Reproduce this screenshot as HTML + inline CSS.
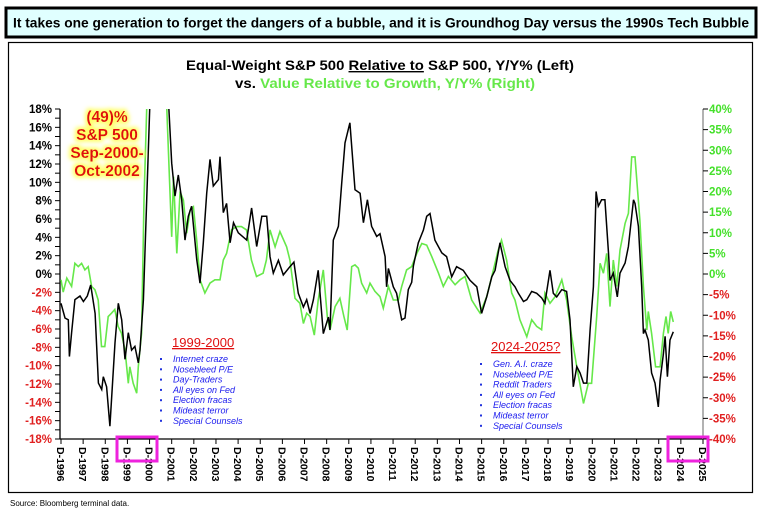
<!DOCTYPE html>
<html><head><meta charset="utf-8"><style>
body{margin:0;background:#fff;}
svg{display:block;font-family:"Liberation Sans",Arial,sans-serif;}
</style></head><body>
<svg id="c" width="762" height="513" viewBox="0 0 762 513">
<defs>
<clipPath id="clip"><rect x="60" y="109" width="643" height="330"/></clipPath>
<filter id="glow" x="-20%" y="-20%" width="140%" height="140%"><feMorphology in="SourceAlpha" operator="dilate" radius="2" result="d"/><feGaussianBlur in="d" stdDeviation="2" result="b"/><feFlood flood-color="#ffff66"/><feComposite in2="b" operator="in" result="g"/><feMerge><feMergeNode in="g"/><feMergeNode in="SourceGraphic"/></feMerge></filter>
</defs>
<rect x="6" y="8" width="750" height="29" fill="#e0ffff" stroke="#000" stroke-width="3"/>
<text x="381" y="27.5" text-anchor="middle" font-size="14" font-weight="bold" textLength="736" lengthAdjust="spacingAndGlyphs">It takes one generation to forget the dangers of a bubble, and it is Groundhog Day versus the 1990s Tech Bubble</text>
<rect x="8.5" y="42.5" width="744" height="450" fill="#fff" stroke="#000" stroke-width="1.2"/>
<text x="380" y="70" text-anchor="middle" font-size="14" font-weight="bold" textLength="388" lengthAdjust="spacingAndGlyphs">Equal-Weight S&amp;P 500 <tspan text-decoration="underline">Relative to</tspan> S&amp;P 500, Y/Y% (Left)</text>
<text x="385" y="88" text-anchor="middle" font-size="14" font-weight="bold" textLength="300" lengthAdjust="spacingAndGlyphs">vs. <tspan fill="#66e84a">Value Relative to Growth, Y/Y% (Right)</tspan></text>
<g id="axes"></g>
<g clip-path="url(#clip)"><path id="green" fill="none" stroke="#66e84a" stroke-width="1.6"/><path id="black" fill="none" stroke="#000" stroke-width="1.5"/></g>
<g filter="url(#glow)" fill="#e01010" font-size="15.5" font-weight="bold" text-anchor="middle">
<text x="107" y="122">(49)%</text><text x="107" y="140">S&amp;P 500</text><text x="107" y="158">Sep-2000-</text><text x="107" y="176">Oct-2002</text></g>
<g id="notes"></g>
<rect x="117" y="437" width="40" height="24" fill="none" stroke="#ee22dd" stroke-width="3"/>
<rect x="668" y="437" width="40" height="24" fill="none" stroke="#ee22dd" stroke-width="3"/>
<text x="10" y="506" font-size="8">Source: Bloomberg terminal data.</text>
</svg>
<script>
const years=['1996','1997','1998','1999','2000','2001','2002','2003','2004','2005','2006','2007','2008','2009','2010','2011','2012','2013','2014','2015','2016','2017','2018','2019','2020','2021','2022','2023','2024','2025'];
const leftTicks=[18,16,14,12,10,8,6,4,2,0,-2,-4,-6,-8,-10,-12,-14,-16,-18];
const rightTicks=[40,35,30,25,20,15,10,5,0,-5,-10,-15,-20,-25,-30,-35,-40];
const blackDates=[
1996.00,1996.18,1996.33,1996.38,1996.48,1996.63,1996.86,1997.01,1997.19,1997.34,
1997.54,1997.69,1997.84,1997.91,1998.06,1998.21,1998.44,1998.59,1998.74,1998.89,
1999.04,1999.19,1999.34,1999.49,1999.57,1999.72,1999.87,2000.02,2000.40,2000.85,
2001.00,2001.15,2001.30,2001.45,2001.60,2001.75,2001.90,2002.13,2002.28,2002.43,
2002.58,2002.73,2002.88,2003.11,2003.18,2003.33,2003.48,2003.64,2003.79,2004.01,
2004.39,2004.61,2004.84,2005.07,2005.29,2005.44,2005.59,2005.82,2006.04,2006.34,
2006.52,2006.72,2006.95,2007.10,2007.25,2007.40,2007.62,2007.85,2008.08,2008.15,
2008.30,2008.53,2008.68,2008.83,2009.05,2009.28,2009.51,2009.66,2009.84,2010.03,
2010.26,2010.41,2010.64,2010.71,2010.79,2011.01,2011.16,2011.39,2011.54,2011.69,
2011.84,2011.92,2012.14,2012.37,2012.52,2012.67,2012.89,2013.20,2013.42,2013.65,
2013.87,2014.17,2014.48,2014.78,2015.00,2015.23,2015.46,2015.61,2015.83,2016.06,
2016.28,2016.51,2016.66,2016.89,2017.04,2017.26,2017.49,2017.71,2017.86,2018.09,
2018.24,2018.39,2018.62,2018.84,2018.99,2019.14,2019.30,2019.45,2019.60,2019.75,
2019.90,2020.05,2020.17,2020.27,2020.42,2020.57,2020.73,2020.80,2020.95,2021.13,
2021.25,2021.48,2021.63,2021.86,2021.93,2022.08,2022.23,2022.31,2022.38,2022.53,
2022.68,2022.83,2022.98,2023.06,2023.21,2023.29,2023.39,2023.51,2023.66];
const blackValues=[
-3.2,-4.8,-5,-9,-6.4,-2.8,-2.4,-3,-2.4,-1.2,
-4.3,-11.9,-12.6,-11.2,-12.3,-16.6,-7.5,-3.2,-5,-9.3,
-6.4,-8.3,-7.9,-9.7,-8.3,-2.8,8.1,19,30,19,
12.1,8.5,10.8,8.1,3.7,6.3,7.4,1.6,-1,3.4,
8.8,12.5,9.6,10.3,12.8,6.7,7.7,3.4,5.6,4.5,
3.7,7.2,3.0,6.3,6.3,1.9,0.1,1.5,-0.1,0.8,
1.3,-2.1,-3.6,-2.8,-4.3,-2.8,0.4,-6.5,-4.7,-6.1,
3.7,5.2,9.9,14.3,16.5,9.2,8.8,5.6,8.1,5.2,
4.1,4.4,1.9,-1.4,0.6,-1.4,-2.1,-5,-4.8,-1.7,
-0.9,0.9,3.4,4.8,6.3,6.6,3.7,2.3,1.9,-0.3,
0.8,0.4,-0.7,-1.4,-4.3,-2.5,-0.3,0.4,3.4,0.8,
-0.7,-1.4,-2.1,-3.0,-2.8,-1.9,-2.1,-2.6,-3.2,0.4,
-2.1,-2.5,-1.7,-1.9,-5,-12.3,-10.1,-10.8,-11.9,-11.9,
-6.1,-1.4,9.0,7.4,8.1,8.1,2.3,-0.7,0.1,-2.5,
0.1,1.2,3.0,8.1,7.7,5.2,-1.4,-6.5,-6.1,-7.2,
-10.8,-11.9,-14.5,-11.6,-8.7,-6.8,-11.2,-7.2,-6.3];
const greenDates=[1996.0,1996.1,1996.26,1996.48,1996.63,1996.78,1996.93,1997.08,1997.23,1997.38,1997.53,1997.68,1997.83,1997.98,1998.13,1998.28,1998.43,1998.58,1998.73,1998.89,1999.04,1999.11,1999.26,1999.42,1999.49,1999.64,1999.75,1999.87,2000.0,2000.4,2000.78,2001.0,2001.08,2001.23,2001.38,2001.53,2001.68,2001.83,2001.98,2002.13,2002.28,2002.5,2002.73,2002.95,2003.18,2003.33,2003.48,2003.7,2003.93,2004.15,2004.38,2004.6,2004.83,2005.13,2005.28,2005.44,2005.67,2005.89,2006.19,2006.34,2006.57,2006.79,2006.95,2007.1,2007.25,2007.44,2007.62,2007.85,2008.03,2008.15,2008.38,2008.6,2008.78,2008.93,2009.13,2009.28,2009.43,2009.58,2009.81,2009.96,2010.18,2010.41,2010.56,2010.79,2011.01,2011.24,2011.39,2011.61,2011.84,2012.07,2012.3,2012.52,2012.75,2013.05,2013.27,2013.5,2013.8,2014.03,2014.25,2014.55,2014.78,2014.93,2015.23,2015.53,2015.75,2015.9,2016.13,2016.36,2016.51,2016.73,2017.04,2017.26,2017.49,2017.71,2017.86,2018.09,2018.32,2018.62,2018.84,2019.07,2019.3,2019.6,2019.82,2019.97,2020.2,2020.35,2020.5,2020.65,2020.8,2020.95,2021.1,2021.25,2021.48,2021.63,2021.78,2021.93,2022.15,2022.31,2022.46,2022.53,2022.68,2022.86,2023.06,2023.21,2023.33,2023.43,2023.54,2023.66];
const greenValues=[-1.4,-4.4,-1,-3,2.6,1.8,2.6,1,1.8,-3,-3.8,-6.3,-17.6,-17.6,-10.3,-9.5,-8.6,-12.7,-14.3,-18.4,-26.5,-22.5,-26.5,-28.9,-22.5,-14.3,18,40,50,50,40,9,23.6,5,20,17.9,9.9,15.5,16.3,8.2,-1.4,-4.6,-2.2,-1.4,-1.4,3.4,5,10.7,11.5,11.5,10.7,3.4,-0.6,0.2,3.4,10.7,6.6,10.3,6.6,3.4,-5.9,-7.1,-12,-9.5,-10.3,-14.8,-6.3,1,-10.3,-13.6,-7.9,-5.9,-10.3,-13.6,1.8,2.2,1.4,-2.2,-4.6,-2.2,-4.2,-5.5,-8.3,-3,-6.3,-6.3,-3,1,1.8,5,7.4,7,4.2,0.2,-3,-0.6,-2.6,-1.4,-0.6,-6.3,-8.3,-9.5,-5.5,1,5.8,8.2,3.4,-4.6,-6.3,-11.1,-15.2,-11.1,-12.7,-13.5,-4.6,-7.1,-5.5,-1.4,-6.3,-15.2,-22.5,-31.4,-26.5,-26.5,-10.3,2.6,0.2,5,-7.9,3.4,-3,5.8,12.3,14.7,28.4,28.4,13,-3,-13.6,-9.1,-14.4,-22.5,-22.5,-14.4,-10.3,-14.4,-9.1,-11.6];

const X0=61,X1=703,Y0=109,Y1=439;
const xs=d=>X0+(d-1996)*(X1-X0)/29;
const yl=v=>Y0+(18-v)*(Y1-Y0)/36;
const yr=v=>Y0+(40-v)*(Y1-Y0)/80;
const NS='http://www.w3.org/2000/svg';
function mk(tag,attrs,parent){const e=document.createElementNS(NS,tag);for(const k in attrs)e.setAttribute(k,attrs[k]);parent.appendChild(e);return e;}
const ax=document.getElementById('axes');
let a=mk('line',{x1:60,y1:Y0,x2:60,y2:Y1,stroke:'#000','stroke-width':1.3},ax);


a=mk('line',{x1:60,y1:Y1,x2:X1,y2:Y1,stroke:'#000','stroke-width':1.3},ax);


a=mk('line',{x1:X1,y1:Y0,x2:X1,y2:Y1,stroke:'#888','stroke-width':1.3},ax);


for(let v=-18;v<=18;v++){mk('line',{x1:55,x2:60,y1:yl(v),y2:yl(v),stroke:'#000','stroke-width':1},ax);}
leftTicks.forEach(v=>{const t=mk('text',{x:52,y:yl(v)+4,'text-anchor':'end','font-size':11.5,'font-weight':'bold',fill:v<0?'#e02020':'#000'},ax);t.textContent=v+'%';

});
rightTicks.forEach(v=>{mk('line',{x1:X1,x2:X1+5,y1:yr(v),y2:yr(v),stroke:'#000'},ax);const t=mk('text',{x:709,y:yr(v)+4,'font-size':11.5,'font-weight':'bold',fill:v<0?'#e02020':'#44e02a'},ax);t.textContent=v+'%';

});
years.forEach(y=>{const x=xs(+y);mk('line',{x1:x,x2:x,y1:Y1,y2:Y1+5,stroke:'#000'},ax);const t=mk('text',{x:0,y:0,transform:`translate(${x-4},447) rotate(90)`,'font-size':10.5,'font-weight':'bold'},ax);t.textContent='D-'+y;

});
document.getElementById('black').setAttribute('d',blackDates.map((d,i)=>(i?'L':'M')+xs(d).toFixed(1)+','+yl(blackValues[i]).toFixed(1)).join(''));
document.getElementById('green').setAttribute('d',greenDates.map((d,i)=>(i?'L':'M')+xs(d).toFixed(1)+','+yr(greenValues[i]).toFixed(1)).join(''));
const notes=document.getElementById('notes');
function block(title,tx,ty,items,bx,lx,ly,name){const t=mk('text',{x:tx,y:ty,'font-size':13,fill:'#e01010','text-decoration':'underline'},notes);t.textContent=title;


items.forEach((s,i)=>{mk('rect',{x:bx,y:ly+i*10.3-4,width:2,height:2,fill:'#2233dd'},notes);const e=mk('text',{x:lx,y:ly+i*10.3,'font-size':9,'font-style':'italic',fill:'#1a1aee'},notes);e.textContent=s;

});}
block('1999-2000',172,347,['Internet craze','Nosebleed P/E','Day-Traders','All eyes on Fed','Election fracas','Mideast terror','Special Counsels'],160,173,362,'notes-1999');
block('2024-2025?',491,351,['Gen. A.I. craze','Nosebleed P/E','Reddit Traders','All eyes on Fed','Election fracas','Mideast terror','Special Counsels'],480,493,367,'notes-2024');
</script>
</body></html>
